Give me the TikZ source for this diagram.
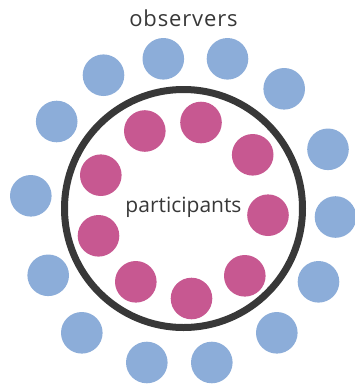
\documentclass[tikz,border=0pt]{standalone}
\usepackage{fontspec}
\setmainfont{Open Sans}
\definecolor{obsblue}{HTML}{8CADD9}
\definecolor{partpink}{HTML}{C75891}
\definecolor{ringgray}{HTML}{383838}
\begin{document}
\begin{tikzpicture}[x=1pt,y=-1pt,
  obs/.style={circle,fill=obsblue,minimum size=41.6pt,inner sep=0pt},
  part/.style={circle,fill=partpink,minimum size=41.6pt,inner sep=0pt},
  lbl/.style={text=ringgray,font=\fontsize{21}{24}\selectfont,inner sep=0pt}]
\useasboundingbox (0,0) rectangle (354,386);
\draw[ringgray,line width=7pt] (183.5,208.5) circle (119);
% observers
\node[obs] (o1) at (163.3,58.8) {};
\node[obs] (o2) at (227.5,58.8) {};
\node[obs] (o3) at (103.5,75.2) {};
\node[obs] (o4) at (284.2,88.8) {};
\node[obs] (o5) at (56.7,121.5) {};
\node[obs] (o6) at (328,149.3) {};
\node[obs] (o7) at (30.8,195.8) {};
\node[obs] (o8) at (335.5,217) {};
\node[obs] (o9) at (48.2,275.3) {};
\node[obs] (o10) at (318.5,281.8) {};
\node[obs] (o11) at (81.8,332.8) {};
\node[obs] (o12) at (276.8,332.8) {};
\node[obs] (o13) at (146.8,362.5) {};
\node[obs] (o14) at (211.8,362.5) {};
% participants
\node[part] (p1) at (144.8,131) {};
\node[part] (p2) at (201,122.5) {};
\node[part] (p3) at (252.7,154.8) {};
\node[part] (p4) at (100.8,175.2) {};
\node[part] (p5) at (268,215.2) {};
\node[part] (p6) at (98.5,235.8) {};
\node[part] (p7) at (135.8,281.8) {};
\node[part] (p8) at (244.8,275.8) {};
\node[part] (p9) at (191.5,298.5) {};
% labels
\node[lbl,anchor=base] (tobs) at (183.5,26.5) {\fontsize{22}{24}\selectfont\addfontfeatures{LetterSpace=4}observers};
\node[lbl,anchor=base] (tpart) at (183.5,212) {participants};
\end{tikzpicture}
\end{document}
